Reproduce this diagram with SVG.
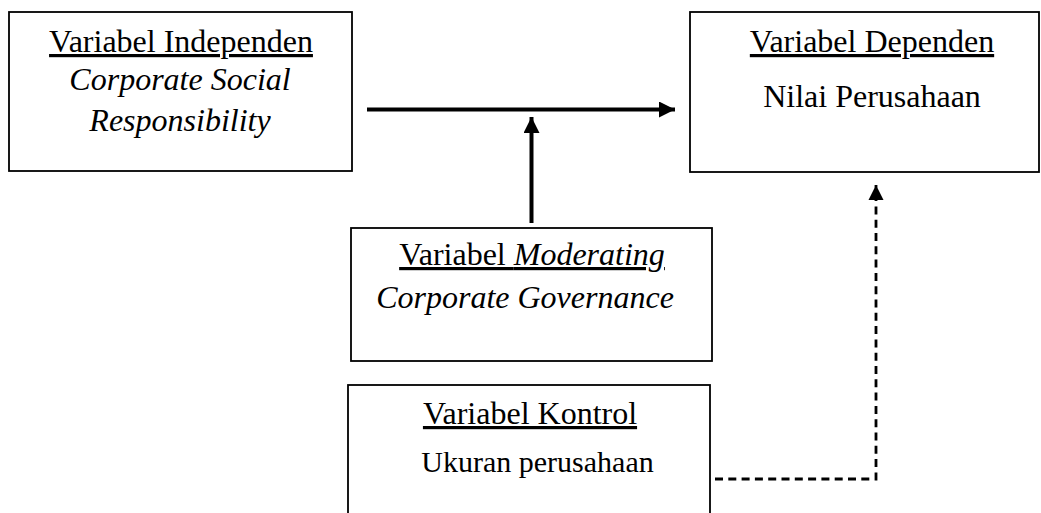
<svg xmlns="http://www.w3.org/2000/svg" width="1041" height="513" viewBox="0 0 1041 513">
<defs>
<style>
.box{fill:#fff;stroke:#000;stroke-width:1.8}
.t{font-family:"Liberation Serif","Times New Roman",serif;font-size:32px;fill:#000;text-anchor:middle}
.i{font-style:italic}
.u{text-decoration:underline}
.solid{stroke:#000;stroke-width:4;fill:none}
.dash{stroke:#000;stroke-width:2.8;fill:none;stroke-dasharray:8 5.3}
</style>
<marker id="ah" viewBox="0 0 10 10" refX="10" refY="5" markerWidth="4.2" markerHeight="4" orient="auto" markerUnits="strokeWidth">
<path d="M0,0 L10,5 L0,10 z" fill="#000"/>
</marker>
<marker id="ahd" viewBox="0 0 10 10" refX="10" refY="5" markerWidth="5.5" markerHeight="5.5" orient="auto" markerUnits="strokeWidth">
<path d="M0,0 L10,5 L0,10 z" fill="#000"/>
</marker>
</defs>
<rect width="1041" height="513" fill="#fff"/>
<g id="independen">
<rect class="box" x="9" y="12" width="343" height="159"/>
<text class="t u" x="181" y="52">Variabel Independen</text>
<text class="t i" x="180" y="90">Corporate Social</text>
<text class="t i" x="180" y="131">Responsibility</text>
</g>
<g id="dependen">
<rect class="box" x="690" y="12" width="349" height="160"/>
<text class="t u" x="872" y="52">Variabel Dependen</text>
<text class="t" x="872" y="107">Nilai Perusahaan</text>
</g>
<g id="moderating">
<rect class="box" x="351" y="228" width="361" height="133"/>
<text class="t u" x="532" y="265">Variabel <tspan class="i">Moderating</tspan></text>
<text class="t i" x="525" y="308">Corporate Governance</text>
</g>
<g id="kontrol">
<rect class="box" x="348" y="385" width="362" height="140"/>
<text class="t u" x="530" y="424">Variabel Kontrol</text>
<text class="t" x="537.5" y="472" style="font-size:30px">Ukuran perusahaan</text>
</g>
<g id="connectors">
<line class="solid" x1="367" y1="109.5" x2="675" y2="109.5" marker-end="url(#ah)"/>
<line class="solid" x1="531.5" y1="223" x2="531.5" y2="117" marker-end="url(#ah)"/>
<polyline class="dash" points="715,479 876,479 876,185" marker-end="url(#ahd)"/>
</g>
</svg>
